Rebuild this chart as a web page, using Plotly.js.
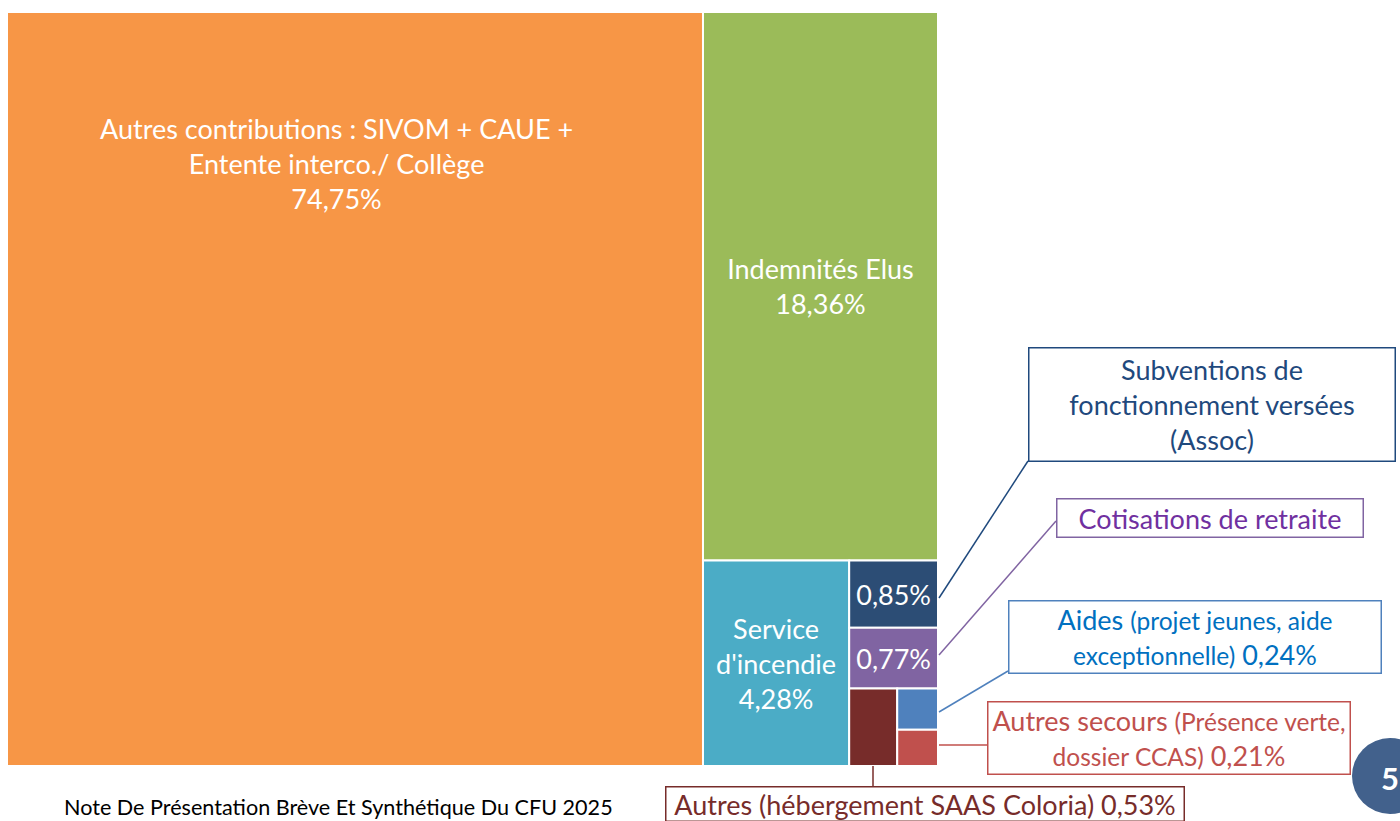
<!DOCTYPE html>
<html>
<head>
<meta charset="utf-8">
<script src="https://cdn.plot.ly/plotly-3.0.1.min.js"></script>
<style>html,body{margin:0;padding:0;background:#fff;}#chart{width:1400px;height:821px;}</style>
</head>
<body>
<div id="chart"></div>
<script>
// ---- data ----
const labels = [
  "Autres contributions : SIVOM + CAUE + Entente interco./ Collège",
  "Indemnités Elus",
  "Service d'incendie",
  "Subventions de fonctionnement versées (Assoc)",
  "Cotisations de retraite",
  "Autres (hébergement SAAS Coloria)",
  "Aides (projet jeunes, aide exceptionnelle)",
  "Autres secours (Présence verte, dossier CCAS)"
];
const values = [74.75, 18.36, 4.28, 0.85, 0.77, 0.53, 0.24, 0.21];
const tileColors = ["#F79646", "#9BBB59", "#4BACC6", "#2C4D75", "#8064A2", "#772C2A", "#4F81BD", "#C0504D"];
const tileText = ["", "Indemnités Elus<br>18,36%", "Service<br>d'incendie<br>4,28%", "0,85%", "0,77%", "", "", ""];
const footer = "Note De Présentation Brève Et Synthétique Du CFU 2025";
const pageNumber = "5";

const FONT = "Lato, 'Noto Sans', sans-serif";
const W = 1400, H = 821;
const px = v => v / W;
const py = v => 1 - v / H;

const trace = {
  type: "treemap",
  labels: labels,
  parents: labels.map(() => ""),
  values: values,
  sort: true,
  tiling: {packing: "squarify", squarifyratio: 1, pad: 0},
  marker: {colors: tileColors, line: {color: "#ffffff", width: 2}, pad: {t: 0, l: 0, r: 0, b: 0}},
  texttemplate: tileText,
  textposition: "middle center",
  textfont: {family: FONT, size: 27, color: "#ffffff"},
  hoverinfo: "skip",
  pathbar: {visible: false},
  domain: {x: [px(7), px(938)], y: [py(766), py(12)]}
};

function callout(text, cx, cy, w, h, color, border) {
  return {
    xref: "paper", yref: "paper", x: px(cx), y: py(cy),
    xanchor: "center", yanchor: "middle",
    text: text, showarrow: false, align: "center",
    width: w, height: h, bgcolor: "#ffffff",
    bordercolor: border, borderwidth: 1.5, borderpad: 0,
    font: {family: FONT, size: 27, color: color}
  };
}

const SUB = "<span style='font-size:24.5px'>";
const annotations = [
  {xref: "paper", yref: "paper", x: px(336), y: py(163), xanchor: "center", yanchor: "middle",
   text: "Autres contributions : SIVOM + CAUE +<br>Entente interco./ Collège<br>74,75%", showarrow: false,
   font: {family: FONT, size: 27, color: "#ffffff"}},
  callout("Subventions de<br>fonctionnement versées<br>(Assoc)", 1212, 404, 365, 112, "#1F497D", "#1F497D"),
  callout("Cotisations de retraite", 1210, 518, 305, 37, "#7030A0", "#8064A2"),
  callout("Aides " + SUB + "(projet jeunes, aide</span><br>" + SUB + "exceptionnelle)</span> 0,24%", 1195, 636.5, 371, 71, "#0070C0", "#4F81BD"),
  callout("Autres secours " + SUB + "(Présence verte,</span><br>" + SUB + "dossier CCAS)</span> 0,21%", 1169, 738, 361, 71, "#C0504D", "#C0504D"),
  callout("Autres (hébergement SAAS Coloria) 0,53%", 925, 804, 517, 33, "#772C2A", "#772C2A"),
  {xref: "paper", yref: "paper", x: px(62), y: py(807), xanchor: "left", yanchor: "middle",
   text: footer, showarrow: false, font: {family: FONT, size: 21.6, color: "#000000"}},
  {xref: "paper", yref: "paper", x: px(1390), y: py(778), xanchor: "center", yanchor: "middle",
   text: "<b>" + pageNumber + "</b>", showarrow: false, font: {family: FONT, size: 31, color: "#ffffff"}}
];

const line = (x0, y0, x1, y1, c) => ({type: "line", xref: "paper", yref: "paper",
  x0: px(x0), y0: py(y0), x1: px(x1), y1: py(y1), line: {color: c, width: 1.5}});

const shapes = [
  line(1028, 461, 939, 598, "#1F497D"),
  line(1056, 521, 939, 655, "#8064A2"),
  line(1008, 671, 939, 712, "#4F81BD"),
  line(987, 745, 939, 745, "#C0504D"),
  line(873, 766, 873, 787, "#772C2A"),
  {type: "circle", xref: "paper", yref: "paper", x0: px(1352), x1: px(1428), y0: py(814), y1: py(738),
   fillcolor: "#42618C", line: {width: 0}, layer: "above"}
];

const layout = {
  width: W, height: H,
  margin: {l: 0, r: 0, t: 0, b: 0},
  paper_bgcolor: "#ffffff",
  showlegend: false,
  annotations: annotations,
  shapes: shapes
};

Plotly.newPlot("chart", [trace], layout, {displayModeBar: false, staticPlot: true});
</script>
</body>
</html>
